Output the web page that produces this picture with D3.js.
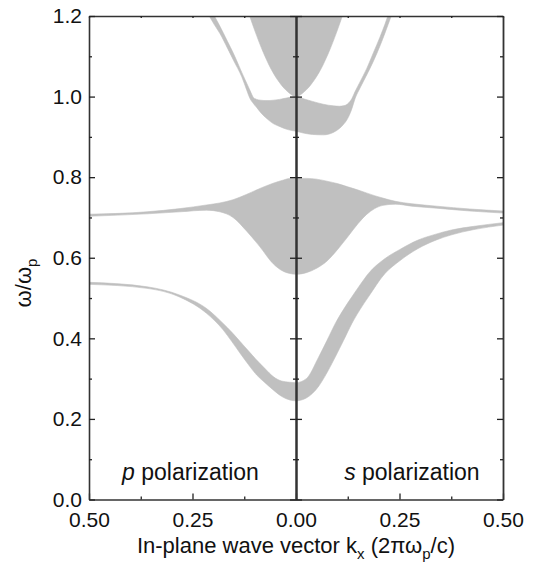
<!DOCTYPE html>
<html>
<head>
<meta charset="utf-8">
<script src="https://cdn.jsdelivr.net/npm/d3@7"></script>
<style>
  body { margin: 0; background: #fff; }
  text { font-family: "Liberation Sans", Arial, Helvetica, sans-serif; fill: #111; }
</style>
</head>
<body>
<div id="chart"></div>
<script>
// band edges, rows are [k, lower omega, upper omega]
var pBand0 = [[0, 0.245, 0.290], [0.015, 0.247, 0.291], [0.035, 0.256, 0.294], [0.055, 0.272, 0.305],
  [0.075, 0.290, 0.325], [0.095, 0.309, 0.346], [0.115, 0.335, 0.369], [0.135, 0.363, 0.392],
  [0.155, 0.392, 0.415], [0.176, 0.421, 0.437], [0.216, 0.462, 0.474], [0.28, 0.502, 0.507],
  [0.36, 0.524, 0.528], [0.5, 0.534, 0.539]];
var sBand0 = [[0, 0.245, 0.290], [0.025, 0.252, 0.300], [0.054, 0.280, 0.352], [0.075, 0.315, 0.395],
  [0.095, 0.354, 0.437], [0.115, 0.395, 0.472], [0.135, 0.437, 0.503], [0.155, 0.472, 0.533],
  [0.175, 0.503, 0.561], [0.215, 0.561, 0.598], [0.25, 0.592, 0.620], [0.295, 0.623, 0.644],
  [0.336, 0.643, 0.658], [0.376, 0.657, 0.669], [0.43, 0.670, 0.678], [0.5, 0.681, 0.687]];

var pBand1 = [[0, 0.559, 0.797], [0.015, 0.561, 0.797], [0.03, 0.566, 0.793], [0.055, 0.585, 0.785],
  [0.087, 0.627, 0.772], [0.12, 0.667, 0.757], [0.152, 0.700, 0.744], [0.184, 0.714, 0.736],
  [0.216, 0.718, 0.731], [0.28, 0.714, 0.722], [0.36, 0.709, 0.714], [0.5, 0.703, 0.708]];
var sBand1 = [[0, 0.558, 0.797], [0.025, 0.563, 0.797], [0.05, 0.574, 0.795], [0.075, 0.592, 0.790],
  [0.1, 0.620, 0.784], [0.125, 0.652, 0.776], [0.15, 0.685, 0.768], [0.17, 0.707, 0.761],
  [0.19, 0.722, 0.754], [0.21, 0.730, 0.748], [0.24, 0.733, 0.740], [0.28, 0.728, 0.734],
  [0.34, 0.723, 0.728], [0.42, 0.716, 0.721], [0.5, 0.711, 0.716]];

var pBand2 = [[0, 0.914, 1.000], [0.02, 0.918, 0.997], [0.04, 0.926, 0.993], [0.055, 0.933, 0.991],
  [0.07, 0.945, 0.990], [0.085, 0.960, 0.991], [0.095, 0.973, 0.993], [0.103, 0.983, 0.998],
  [0.111, 0.995, 1.015], [0.119, 1.016, 1.033], [0.131, 1.049, 1.060], [0.151, 1.090, 1.107],
  [0.165, 1.119, 1.136], [0.184, 1.157, 1.175], [0.197, 1.178, 1.200], [0.215, 1.210, 1.235]];
var sBand2 = [[0, 0.913, 1.000], [0.02, 0.909, 0.994], [0.04, 0.906, 0.988], [0.066, 0.905, 0.981],
  [0.09, 0.911, 0.977], [0.105, 0.921, 0.976], [0.114, 0.930, 0.977], [0.125, 0.946, 0.982],
  [0.135, 0.970, 0.995], [0.143, 0.996, 1.013], [0.155, 1.022, 1.037], [0.171, 1.054, 1.070],
  [0.187, 1.088, 1.109], [0.203, 1.126, 1.148], [0.215, 1.158, 1.180], [0.23, 1.200, 1.225]];

var band3 = [[0, 1.000, 1.25], [0.02, 1.012, 1.25], [0.04, 1.035, 1.25], [0.06, 1.068, 1.25],
  [0.08, 1.112, 1.25], [0.10, 1.165, 1.25], [0.12, 1.225, 1.25]];

var xTicks = [-0.5, -0.25, 0, 0.25, 0.5];
var xMinor = [-0.375, -0.125, 0.125, 0.375];
var yTicks = [0, 0.2, 0.4, 0.6, 0.8, 1.0, 1.2];
var yMinor = [0.1, 0.3, 0.5, 0.7, 0.9, 1.1];

var svgWidth = 535, svgHeight = 566;
var margin = { top: 16, right: 32, bottom: 66.5, left: 89 };
var width = svgWidth - margin.left - margin.right;
var height = svgHeight - margin.top - margin.bottom;

var svg = d3.select("#chart").append("svg")
  .attr("width", svgWidth)
  .attr("height", svgHeight);

var chartGroup = svg.append("g")
  .attr("transform", `translate(${margin.left}, ${margin.top})`);

var x = d3.scaleLinear().domain([-0.5, 0.5]).range([0, width]);
var y = d3.scaleLinear().domain([0, 1.2]).range([height, 0]);

chartGroup.append("clipPath").attr("id", "plotclip")
  .append("rect").attr("width", width).attr("height", height);

// join p side (drawn at negative k) and s side into one band across k = 0
function joinSides(p, s) {
  var left = p.slice().reverse().map(d => [-d[0], d[1], d[2]]);
  return left.concat(s.slice(1));
}

var area = d3.area()
  .x(d => x(d[0]))
  .y0(d => y(d[1]))
  .y1(d => y(d[2]))
  .curve(d3.curveMonotoneX);

var bands = chartGroup.append("g").attr("clip-path", "url(#plotclip)");
[joinSides(pBand0, sBand0), joinSides(pBand1, sBand1),
 joinSides(pBand2, sBand2), joinSides(band3, band3)].forEach(function(b) {
  bands.append("path")
    .datum(b)
    .attr("d", area)
    .attr("fill", "#c0c0c0")
    .attr("stroke", "#c0c0c0")
    .attr("stroke-width", 0.6);
});

var fmt = d => Math.abs(d).toFixed(2);

function styleAxis(g, w) {
  g.selectAll(".domain").attr("stroke", "#333").attr("stroke-width", w);
  g.selectAll(".tick line").attr("stroke", "#222").attr("stroke-width", 1.3);
  g.selectAll("text").attr("font-size", 21).attr("fill", "#111")
    .attr("font-family", "'Liberation Sans', Arial, sans-serif");
}

// bottom axis
var bottomAxis = chartGroup.append("g").attr("transform", `translate(0, ${height})`)
  .call(d3.axisBottom(x).tickValues(xTicks).tickFormat(fmt).tickSizeInner(-6).tickSizeOuter(0).tickPadding(14));
styleAxis(bottomAxis, 1.6);
bottomAxis.selectAll("text").attr("dy", "0.62em");
var bottomMinor = chartGroup.append("g").attr("transform", `translate(0, ${height})`)
  .call(d3.axisBottom(x).tickValues(xMinor).tickFormat("").tickSizeInner(-3).tickSizeOuter(0));
styleAxis(bottomMinor, 0);

// top axis
var topAxis = chartGroup.append("g")
  .call(d3.axisTop(x).tickValues(xTicks.concat(xMinor)).tickFormat("").tickSizeInner(-2).tickSizeOuter(0));
styleAxis(topAxis, 1.6);

// left axis
var leftAxis = chartGroup.append("g")
  .call(d3.axisLeft(y).tickValues(yTicks).tickFormat(d3.format(".1f")).tickSizeInner(-6).tickSizeOuter(0).tickPadding(7));
styleAxis(leftAxis, 1.6);
var leftMinor = chartGroup.append("g")
  .call(d3.axisLeft(y).tickValues(yMinor).tickFormat("").tickSizeInner(-3).tickSizeOuter(0));
styleAxis(leftMinor, 0);

// right axis
var rightAxis = chartGroup.append("g").attr("transform", `translate(${width}, 0)`)
  .call(d3.axisRight(y).tickValues(yTicks).tickFormat("").tickSizeInner(-6).tickSizeOuter(0));
styleAxis(rightAxis, 1.8);
var rightMinor = chartGroup.append("g").attr("transform", `translate(${width}, 0)`)
  .call(d3.axisRight(y).tickValues(yMinor).tickFormat("").tickSizeInner(-3).tickSizeOuter(0));
styleAxis(rightMinor, 0);

// centre line with crossing ticks
[d3.axisLeft, d3.axisRight].forEach(function(ax) {
  var c = chartGroup.append("g").attr("transform", `translate(${x(0)}, 0)`)
    .call(ax(y).tickValues(yTicks).tickFormat("").tickSizeInner(6).tickSizeOuter(0));
  styleAxis(c, 2);
  var cm = chartGroup.append("g").attr("transform", `translate(${x(0)}, 0)`)
    .call(ax(y).tickValues(yMinor).tickFormat("").tickSizeInner(3).tickSizeOuter(0));
  styleAxis(cm, 0);
});

// polarization labels
var pLab = chartGroup.append("text")
  .attr("x", x(-0.255)).attr("y", height - 20)
  .attr("text-anchor", "middle").attr("font-size", 23);
pLab.append("tspan").attr("font-style", "italic").text("p");
pLab.append("tspan").text(" polarization");

var sLab = chartGroup.append("text")
  .attr("x", x(0.28)).attr("y", height - 20)
  .attr("text-anchor", "middle").attr("font-size", 23);
sLab.append("tspan").attr("font-style", "italic").text("s");
sLab.append("tspan").text(" polarization");

// axis titles
var xTitle = svg.append("text")
  .attr("x", margin.left + x(0)).attr("y", 553)
  .attr("text-anchor", "middle").attr("font-size", 22);
xTitle.append("tspan").text("In-plane wave vector k");
xTitle.append("tspan").attr("font-size", 15).attr("dy", 6).text("x");
xTitle.append("tspan").attr("dy", -6).text(" (2πω");
xTitle.append("tspan").attr("font-size", 15).attr("dy", 6).text("p");
xTitle.append("tspan").attr("dy", -6).text("/c)");

var yTitle = svg.append("text")
  .attr("transform", "translate(31, 283) rotate(-90)")
  .attr("text-anchor", "middle").attr("font-size", 22);
yTitle.append("tspan").text("ω/ω");
yTitle.append("tspan").attr("font-size", 15).attr("dy", 6).text("p");
</script>
</body>
</html>
